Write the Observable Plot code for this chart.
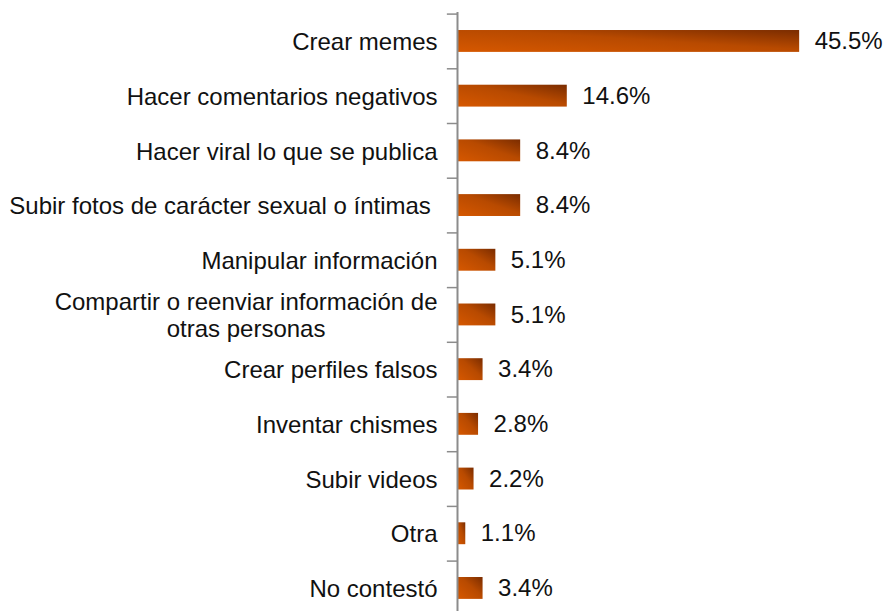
<!DOCTYPE html>
<html>
<head>
<meta charset="utf-8">
<script src="https://cdn.jsdelivr.net/npm/d3@7"></script>
<script src="https://cdn.jsdelivr.net/npm/@observablehq/plot@0.6"></script>
<style>
  html, body { margin: 0; padding: 0; background: #fff; }
  #chart svg { display: block; }
</style>
</head>
<body>
<div id="chart"></div>
<script>
const categories = [
  "Crear memes",
  "Hacer comentarios negativos",
  "Hacer viral lo que se publica",
  "Subir fotos de carácter sexual o íntimas ",
  "Manipular información",
  "Compartir o reenviar información de\notras personas",
  "Crear perfiles falsos",
  "Inventar chismes",
  "Subir videos",
  "Otra",
  "No contestó"
];
const values = [45.5, 14.6, 8.4, 8.4, 5.1, 5.1, 3.4, 2.8, 2.2, 1.1, 3.4];
const valueLabels = ["45.5%", "14.6%", "8.4%", "8.4%", "5.1%", "5.1%", "3.4%", "2.8%", "2.2%", "1.1%", "3.4%"];

const data = categories.map((c, i) => ({category: c, value: values[i], label: valueLabels[i]}));

const defs = () => {
  const g = d3.create("svg:defs");
  const lg = g.append("linearGradient")
    .attr("id", "barGrad")
    .attr("x1", 0).attr("y1", 1).attr("x2", 1).attr("y2", 0);
  lg.append("stop").attr("offset", "0%").attr("stop-color", "#d65800");
  lg.append("stop").attr("offset", "55%").attr("stop-color", "#b84a00");
  lg.append("stop").attr("offset", "100%").attr("stop-color", "#7a2c00");
  return g.node();
};

const step = 54.7;
const fontFamily = "'Liberation Sans', Arial, sans-serif";

const plot = Plot.plot({
  width: 886,
  height: 611,
  marginLeft: 457,
  marginRight: 53,
  marginTop: 12,
  marginBottom: 0,
  style: {fontFamily, fontSize: "24px", color: "#111", background: "#fff"},
  x: {domain: [0, 50], axis: null},
  y: {domain: categories, range: [13.6, 13.6 + step * 11], paddingInner: 0.6, paddingOuter: 0.3, align: 0.5, round: false, axis: null},
  marks: [
    defs,
    Plot.barX(data, {y: "category", x: "value", fill: "url(#barGrad)", insetLeft: 1}),
    Plot.ruleY(categories, {y: d => d, x1: -1.35, x2: 0, dy: -step / 2, stroke: "#8c8c8c", strokeWidth: 1.5}),
    Plot.ruleX([0], {stroke: "#8c8c8c", strokeWidth: 2}),
    Plot.text(data, {
      y: "category", x: 0, text: "category", textAnchor: "end", dx: -20,
      fontSize: 24, fill: "#111", lineHeight: 1.13
    }),
    Plot.text(data, {
      y: "category", x: "value", text: "label", textAnchor: "start", dx: 15,
      fontSize: 24, fill: "#111"
    })
  ]
});

document.getElementById("chart").appendChild(plot);

// Center multi-line category labels relative to their first line (as in the original)
plot.querySelectorAll("text").forEach(t => {
  const spans = t.querySelectorAll("tspan");
  if (spans.length > 1) {
    const w = spans[0].getComputedTextLength();
    t.setAttribute("text-anchor", "middle");
    const tr = t.getAttribute("transform") || "";
    t.setAttribute("transform", tr + ` translate(${-w / 2},0)`);
  }
});
</script>
</body>
</html>
